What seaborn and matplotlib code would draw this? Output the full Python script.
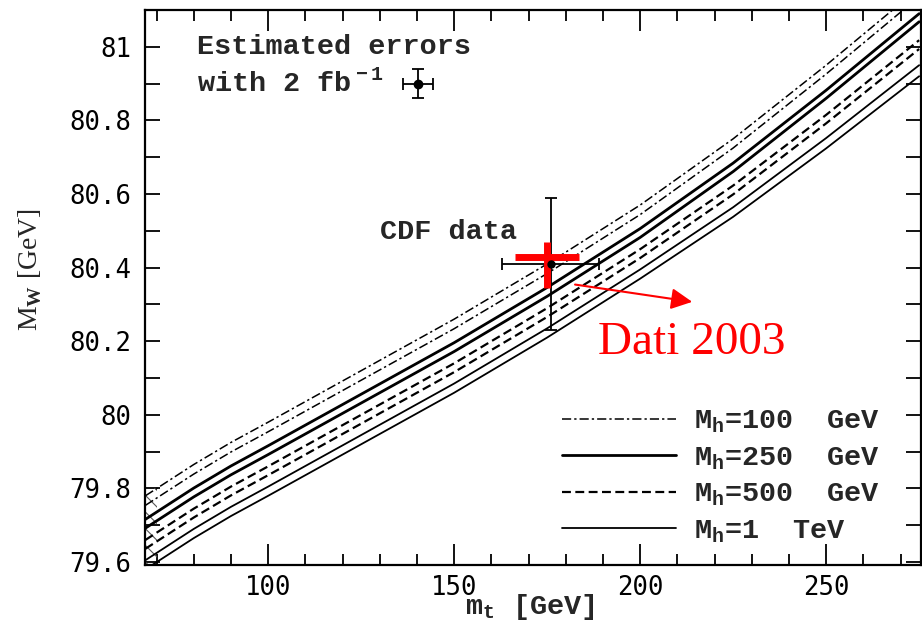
import numpy as np
import pandas as pd
import matplotlib
matplotlib.use("Agg")
import matplotlib.pyplot as plt
from matplotlib.ticker import MultipleLocator, FuncFormatter
from matplotlib.lines import Line2D
import seaborn as sns

# ---------------- data ----------------
mt = [67, 80, 90, 100, 125, 150, 175, 200, 225, 250, 275]

mh100_hi = [79.78, 79.865, 79.925, 79.98, 80.12, 80.26, 80.41, 80.57, 80.75, 80.95, 81.16]
mh100_lo = [79.754, 79.839, 79.899, 79.954, 80.094, 80.234, 80.384, 80.544, 80.725, 80.926, 81.136]
mh250_hi = [79.716, 79.801, 79.861, 79.916, 80.056, 80.196, 80.346, 80.506, 80.684, 80.882, 81.09]
mh250_lo = [79.692, 79.777, 79.837, 79.892, 80.032, 80.172, 80.322, 80.482, 80.661, 80.86, 81.068]
mh500_hi = [79.66, 79.745, 79.805, 79.86, 80.0, 80.14, 80.29, 80.45, 80.623, 80.815, 81.018]
mh500_lo = [79.636, 79.721, 79.781, 79.836, 79.976, 80.116, 80.266, 80.426, 80.599, 80.792, 80.994]
mh1000_hi = [79.605, 79.69, 79.75, 79.805, 79.945, 80.085, 80.235, 80.395, 80.564, 80.752, 80.95]
mh1000_lo = [79.58, 79.665, 79.725, 79.78, 79.92, 80.06, 80.21, 80.37, 80.538, 80.724, 80.92]

legend_labels = [r"M$_{\rm h}$=100  GeV", r"M$_{\rm h}$=250  GeV",
                 r"M$_{\rm h}$=500  GeV", r"M$_{\rm h}$=1  TeV"]

# estimated error point
est_mt, est_mw, est_xerr, est_yerr = 140.3, 80.90, 4.0, 0.04
# CDF data point
cdf_mt, cdf_mw, cdf_xerr, cdf_yerr = 176.0, 80.41, 13.0, 0.18
# "Dati 2003" red cross
dati_mt, dati_mw, dati_xerr = 175.0, 80.43, 8.6
dati_yerr_lo, dati_yerr_hi = 0.085, 0.04

x_ticks = [100, 150, 200, 250]
y_ticks = [79.6, 79.8, 80.0, 80.2, 80.4, 80.6, 80.8, 81.0]

# ---------------- styling ----------------
sns.set_theme(style="ticks")
plt.rcParams["font.family"] = ["DejaVu Sans Mono"]
plt.rcParams["mathtext.fontset"] = "custom"
plt.rcParams["mathtext.rm"] = "Liberation Mono:bold"
plt.rcParams["mathtext.sf"] = "Liberation Serif:bold"
plt.rcParams["axes.edgecolor"] = "black"
plt.rcParams["xtick.color"] = "black"
plt.rcParams["ytick.color"] = "black"
plt.rcParams["hatch.linewidth"] = 0.8

MONO = "Liberation Mono"
TXT = 20.5

fig = plt.figure(figsize=(9.22, 6.21), dpi=100)
fig.patch.set_facecolor("white")
ax = fig.add_axes([145 / 922, 1 - 565 / 621, (921 - 145) / 922, (565 - 10) / 621])
ax.set_facecolor("white")

styles = [
    (mh100_hi, dict(lw=1.1, linestyle=(0, (6, 2, 1.5, 2)))),
    (mh100_lo, dict(lw=1.1, linestyle=(0, (6, 2, 1.5, 2)))),
    (mh250_hi, dict(lw=2.0, linestyle="-")),
    (mh250_lo, dict(lw=2.0, linestyle="-")),
    (mh500_hi, dict(lw=1.6, linestyle=(0, (4, 2)))),
    (mh500_lo, dict(lw=1.6, linestyle=(0, (4, 2)))),
    (mh1000_hi, dict(lw=1.3, linestyle="-")),
    (mh1000_lo, dict(lw=1.3, linestyle="-")),
]
for vals, st in styles:
    sns.lineplot(x=mt, y=vals, ax=ax, color="black", sort=False,
                 estimator=None, legend=False, **st)

# small hatched excluded region at the lower-left corner
ax.fill_betweenx([79.59, 79.80], 66.9, 70.0, facecolor="none",
                 edgecolor="#555555", hatch="\\\\", linewidth=0)

# estimated errors marker
ax.errorbar([est_mt], [est_mw], xerr=[est_xerr], yerr=[est_yerr], fmt="o",
            color="black", ms=6, elinewidth=1.3, capsize=4, capthick=1.3)
# CDF data
ax.errorbar([cdf_mt], [cdf_mw], xerr=[cdf_xerr], yerr=[cdf_yerr], fmt="o",
            color="black", ms=5, elinewidth=1.3, capsize=4, capthick=1.3)
# red cross: Dati 2003
ax.errorbar([dati_mt], [dati_mw], xerr=[dati_xerr],
            yerr=[[dati_yerr_lo], [dati_yerr_hi]], fmt="none",
            ecolor="red", elinewidth=5, capsize=0)
ax.annotate("", xy=(214, 80.307), xytext=(182.5, 80.354),
            arrowprops=dict(arrowstyle="-|>", color="red", lw=1.5,
                            mutation_scale=32, shrinkA=0, shrinkB=0))
ax.text(188.7, 80.165, "Dati 2003", color="red", fontsize=34,
        family="Liberation Serif", ha="left", va="baseline")

# annotations
ax.text(81.0, 81.0, "Estimated errors", family=MONO, fontsize=TXT,
        fontweight="bold", ha="left", va="center")
ax.text(81.0, 80.9, r"with 2 fb$^{\rm -1}$", family=MONO, fontsize=TXT,
        fontweight="bold", ha="left", va="center")
ax.text(130.2, 80.497, "CDF data", family=MONO, fontsize=TXT,
        fontweight="bold", ha="left", va="center")

# legend
handles = [Line2D([], [], color="black", **styles[0][1]),
           Line2D([], [], color="black", **styles[2][1]),
           Line2D([], [], color="black", **styles[4][1]),
           Line2D([], [], color="black", **styles[6][1])]
leg = ax.legend(handles, legend_labels, loc="upper left",
                bbox_to_anchor=(536 / 922, 1 - 383 / 621),
                bbox_transform=fig.transFigure, frameon=False,
                prop=dict(family=MONO, size=TXT, weight="bold"),
                handlelength=4.0, handletextpad=0.65, labelspacing=0.34)

# axes
ax.set_xlim(66.9, 275.5)
ax.set_ylim(79.592, 81.1)
ax.xaxis.set_major_locator(MultipleLocator(50))
ax.xaxis.set_minor_locator(MultipleLocator(10))
ax.set_yticks(y_ticks)
ax.yaxis.set_minor_locator(MultipleLocator(0.1))
ax.set_xticks(x_ticks)
ax.yaxis.set_major_formatter(FuncFormatter(lambda v, p: f"{round(v, 1):g}"))
ax.xaxis.set_major_formatter(FuncFormatter(lambda v, p: f"{int(round(v))}"))
ax.tick_params(which="both", direction="in", top=True, right=True,
               width=1.3, labelsize=18.5, colors="black")
ax.tick_params(axis="x", which="major", length=15, pad=7)
ax.tick_params(axis="x", which="minor", length=8)
ax.tick_params(axis="y", which="major", length=11, pad=10)
ax.tick_params(axis="y", which="minor", length=11)
for lab in ax.get_xticklabels() + ax.get_yticklabels():
    lab.set_family("DejaVu Sans Mono")
for s in ax.spines.values():
    s.set_linewidth(1.6)
    s.set_color("black")
ax.set_xlabel("")
ax.set_ylabel("")

fig.text(530 / 922, 1 - 607 / 621, r"m$_{\rm t}$ [GeV]", family=MONO,
         fontsize=TXT, fontweight="bold", ha="center", va="center")
fig.text(30 / 922, 1 - 270 / 621, r"M$_\mathsf{W}$ [GeV]",
         family="Liberation Serif", fontsize=20, rotation=90,
         ha="center", va="center")

fig.savefig("out.png", dpi=100, facecolor="white")
